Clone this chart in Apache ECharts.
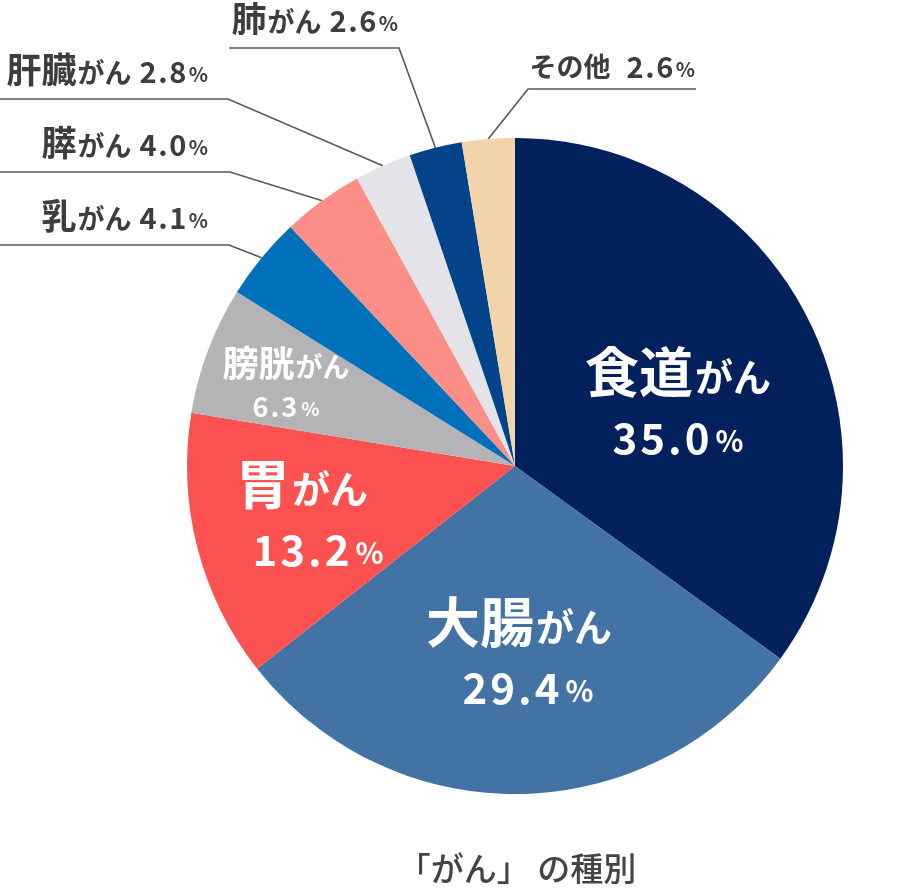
<!DOCTYPE html>
<html>
<head>
<meta charset="utf-8">
<script src="https://cdn.jsdelivr.net/npm/echarts@6/dist/echarts.min.js"></script>
<style>
html,body{margin:0;padding:0;background:#fff;}
#chart{width:900px;height:890px;}
</style>
</head>
<body>
<div id="chart"></div>
<script>
// ---- data ----
const organs = ['食道', '大腸', '胃', '膀胱', '乳', '膵', '肝臓', '肺', 'その他'];
const suffixes = ['がん', 'がん', 'がん', 'がん', 'がん', 'がん', 'がん', 'がん', ''];
const values = [35.0, 29.4, 13.2, 6.3, 4.1, 4.0, 2.8, 2.6, 2.6];
const chartTitle = '「がん」 の種別';

// ---- styles / layout ----
const colors = ['#02205c', '#4373a5', '#fb5151', '#b4b4b6', '#0070ba', '#fb8f87', '#e4e4e8', '#03438a', '#f2d3aa'];
const CX = 515, CY = 466, R = 328;
const insideKind = ['big', 'big', 'big', 'mid', null, null, null, null, null];
const insidePos = { 0: [678, 405], 1: [519, 655], 2: [302, 517], 3: [286, 385] };
const insideShift = { 0: 0, 1: 18, 2: 32, 3: 0 };
const outsideLayout = {
  4: { bend: [229, 245], end: [0, 245], tx: 208, ty: 216 },
  5: { bend: [230, 172], end: [0, 172], tx: 208, ty: 143 },
  6: { bend: [228, 99], end: [0, 99], tx: 208, ty: 70 },
  7: { bend: [399, 48], end: [229, 48], tx: 398, ty: 19 },
  8: { bend: [528, 89], end: [696, 89], tx: 695, ty: 65 }
};
const FONT = '"Noto Sans CJK JP", "Noto Sans", sans-serif';
const total = values.reduce((a, b) => a + b, 0);

function arcPoint(i) {
  const before = values.slice(0, i).reduce((a, b) => a + b, 0);
  const a = (before + values[i] / 2) / total * 2 * Math.PI;
  return [CX + R * Math.sin(a), CY - R * Math.cos(a)];
}

function mk(size, color, lh, pad) {
  return { fontSize: size, fontWeight: 'bold', color: color, fontFamily: FONT, lineHeight: lh, padding: pad };
}
const W = '#fff';
const richBig = {
  k: mk(54, W, 66, [0, 0, 0, 0]),
  g: mk(38, W, 66, [10, 0, 0, 2]),
  n: mk(42, W, 66, [0, 3, 0, 0]),
  p: mk(29, W, 66, [6, 0, 0, 3]),
  s: mk(10, W, 66, [0, 0, 0, 0])
};
const richMid = {
  k: mk(36, W, 43, [0, 0, 0, 0]),
  g: mk(27, W, 43, [6, 0, 0, 1]),
  n: mk(27, W, 43, [0, 2, 0, 0]),
  p: mk(19, W, 43, [4, 0, 0, 2]),
  s: mk(10, W, 43, [0, 0, 0, 0])
};
const TC = '#3d3d3f';
const richOut = {
  k: mk(35, TC, 40, [0, 0, 0, 0]),
  g: mk(27, TC, 40, [6, 0, 0, 1]),
  o: mk(27, TC, 40, [4, 0, 0, 0]),
  n: mk(29, TC, 40, [4, 1.5, 0, 0]),
  p: mk(20, TC, 40, [8, 0, 0, 1]),
  s: mk(10, TC, 40, [0, 0, 0, 0])
};

function numTokens(v) {
  return v.toFixed(1).split('').map(c => '{n|' + c + '}').join('') + '{p|%}';
}
function spacer(w) {
  return w > 0 ? '{s|\u00a0}' : '';
}

const data = values.map((v, i) => {
  const kind = insideKind[i];
  let fmt;
  let rich;
  if (kind) {
    rich = Object.assign({}, kind === 'big' ? richBig : richMid);
    rich.s = Object.assign({}, rich.s, { width: insideShift[i] });
    fmt = '{k|' + organs[i] + '}{g|' + suffixes[i] + '}\n' + spacer(insideShift[i]) + numTokens(v);
  } else {
    rich = Object.assign({}, richOut);
    if (suffixes[i]) {
      rich.s = Object.assign({}, rich.s, { width: 8 });
      fmt = '{k|' + organs[i] + '}{g|' + suffixes[i] + '}' + spacer(8) + numTokens(v);
    } else {
      rich.s = Object.assign({}, rich.s, { width: 16 });
      fmt = '{o|' + organs[i] + '}' + spacer(16) + numTokens(v);
    }
  }
  return {
    name: organs[i] + suffixes[i],
    value: v,
    itemStyle: { color: colors[i] },
    label: { formatter: fmt, rich: rich },
    labelLine: { show: !kind }
  };
});

const chart = echarts.init(document.getElementById('chart'), null, { renderer: 'canvas' });
chart.setOption({
  backgroundColor: '#fff',
  animation: false,
  title: {
    text: chartTitle,
    left: 512,
    top: 847,
    textAlign: 'center',
    textStyle: { fontSize: 33, fontWeight: 500, color: '#444', fontFamily: FONT }
  },
  series: [{
    type: 'pie',
    center: [CX, CY],
    radius: R,
    startAngle: 90,
    clockwise: true,
    avoidLabelOverlap: false,
    silent: true,
    emphasis: { disabled: true },
    itemStyle: { borderWidth: 0 },
    label: { show: true, position: 'outside' },
    labelLine: { show: true, lineStyle: { color: '#58585a', width: 1.6 } },
    labelLayout: function (params) {
      const i = params.dataIndex;
      if (insidePos[i]) {
        return { x: insidePos[i][0], y: insidePos[i][1], align: 'center', verticalAlign: 'middle' };
      }
      const L = outsideLayout[i];
      return {
        x: L.tx, y: L.ty, align: 'right', verticalAlign: 'middle',
        labelLinePoints: [arcPoint(i), L.bend, L.end]
      };
    },
    data: data
  }]
});
</script>
</body>
</html>
